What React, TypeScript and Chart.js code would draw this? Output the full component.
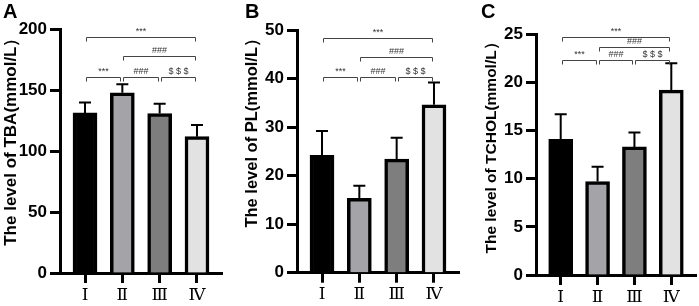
import React, { useEffect, useRef } from 'react';
import { Chart, registerables } from 'chart.js';

Chart.register(...registerables);

// ---------- data ----------
const groups = ['Ⅰ', 'Ⅱ', 'Ⅲ', 'Ⅳ'];
const groupPositions = [1, 2, 3, 4];
const barColors = ['#000000', '#a4a4a8', '#7e7e7e', '#e2e2e2'];

const tbaMeans = [131.5, 148, 131, 112];
const tbaErrors = [8.5, 7, 8, 9.5];
const plMeans = [24.2, 15.3, 23.4, 34.6];
const plErrors = [5, 2.6, 4.4, 4.6];
const tcholMeans = [14.1, 9.7, 13.3, 19.2];
const tcholErrors = [2.6, 1.55, 1.5, 2.8];

const tbaBrackets = [
  { from: 1, to: 4, y: 193.5, label: '***' },
  { from: 2, to: 4, y: 178, label: '###' },
  { from: 1, to: 2, y: 161, label: '***' },
  { from: 2, to: 3, y: 161, label: '###' },
  { from: 3, to: 4, y: 161, label: '$ $ $' },
];
const plBrackets = [
  { from: 1, to: 4, y: 48.4, label: '***' },
  { from: 2, to: 4, y: 44.5, label: '###' },
  { from: 1, to: 2, y: 40.4, label: '***' },
  { from: 2, to: 3, y: 40.4, label: '###' },
  { from: 3, to: 4, y: 40.4, label: '$ $ $' },
];
const tcholBrackets = [
  { from: 1, to: 4, y: 24.75, label: '***' },
  { from: 2, to: 4, y: 23.7, label: '###' },
  { from: 1, to: 2, y: 22.3, label: '***' },
  { from: 2, to: 3, y: 22.3, label: '###' },
  { from: 3, to: 4, y: 22.3, label: '$ $ $' },
];

const tbaAxis = { max: 200, step: 50 };
const plAxis = { max: 50, step: 10 };
const tcholAxis = { max: 25, step: 5 };

const SANS = "'Liberation Sans', Arial, sans-serif";

type Bracket = { from: number; to: number; y: number; label: string };

type PanelProps = {
  letter: string;
  title: string;
  titleSize: number;
  means: number[];
  errors: number[];
  brackets: Bracket[];
  axis: { max: number; step: number };
  left: number;
  padLeft: number;
  padRight: number;
  padTop: number;
  yWidth: number;
  xHeight: number;
  letterX: number;
};

function Panel(p: PanelProps) {
  const ref = useRef<HTMLCanvasElement | null>(null);

  useEffect(() => {
    if (!ref.current) return;
    const overlay = {
      id: 'overlay' + p.letter,
      afterDatasetsDraw(chart: any) {
        const { ctx } = chart;
        const x = chart.scales.x;
        const y = chart.scales.y;
        ctx.save();
        // error bars
        ctx.strokeStyle = '#000';
        ctx.lineWidth = 2;
        p.means.forEach((m, i) => {
          const xp = x.getPixelForValue(groupPositions[i]);
          const y0 = y.getPixelForValue(m);
          const y1 = y.getPixelForValue(m + p.errors[i]);
          ctx.beginPath();
          ctx.moveTo(xp, y0);
          ctx.lineTo(xp, y1);
          ctx.moveTo(xp - 6, y1);
          ctx.lineTo(xp + 6, y1);
          ctx.stroke();
        });
        // significance brackets
        ctx.strokeStyle = '#444';
        ctx.lineWidth = 1;
        ctx.fillStyle = '#333';
        ctx.font = `9px ${SANS}`;
        ctx.textAlign = 'center';
        ctx.textBaseline = 'bottom';
        p.brackets.forEach((b) => {
          const x1 = Math.round(x.getPixelForValue(b.from)) + 1.5;
          const x2 = Math.round(x.getPixelForValue(b.to)) - 1.5;
          const yy = Math.round(y.getPixelForValue(b.y)) + 0.5;
          ctx.beginPath();
          ctx.moveTo(x1, yy + 4);
          ctx.lineTo(x1, yy);
          ctx.lineTo(x2, yy);
          ctx.lineTo(x2, yy + 4);
          ctx.stroke();
          ctx.fillText(b.label, (x1 + x2) / 2, yy - 1);
        });
        // panel letter
        ctx.fillStyle = '#000';
        ctx.font = `bold 20px ${SANS}`;
        ctx.textAlign = 'left';
        ctx.textBaseline = 'alphabetic';
        ctx.fillText(p.letter, p.letterX, 18);
        ctx.restore();
      },
    };

    const chart = new Chart(ref.current, {
      type: 'bar',
      data: {
        datasets: [
          {
            data: p.means.map((m, i) => ({ x: groupPositions[i], y: m })),
            backgroundColor: barColors,
            borderColor: '#000',
            borderWidth: 3.5,
            barThickness: 24,
          },
        ],
      },
      options: {
        responsive: false,
        animation: false,
        events: [],
        layout: { padding: { left: p.padLeft, right: p.padRight, top: p.padTop, bottom: 0 } },
        plugins: { legend: { display: false }, tooltip: { enabled: false }, title: { display: false } },
        scales: {
          x: {
            type: 'linear',
            min: 0.33,
            max: 4.67,
            offset: false,
            afterBuildTicks: (s: any) => {
              s.ticks = groupPositions.map((v) => ({ value: v }));
            },
            afterFit: (s: any) => {
              s.height = p.xHeight;
            },
            ticks: {
              autoSkip: false,
              maxRotation: 0,
              padding: 2,
              color: '#000',
              font: { family: "'DejaVu Serif', serif", size: 17 },
              callback: (v: any) => {
                const idx = groupPositions.indexOf(Number(v));
                return idx >= 0 ? groups[idx] : '';
              },
            },
            grid: {
              offset: false,
              drawOnChartArea: false,
              drawTicks: true,
              tickLength: 10,
              tickWidth: 3,
              tickColor: '#000',
            },
            border: { display: true, color: '#000', width: 3 },
          },
          y: {
            min: 0,
            max: p.axis.max,
            afterFit: (s: any) => {
              s.width = p.yWidth;
            },
            ticks: {
              stepSize: p.axis.step,
              padding: 3,
              color: '#000',
              font: { family: SANS, size: 17, weight: 'bold' },
            },
            grid: {
              drawOnChartArea: false,
              drawTicks: true,
              tickLength: 10,
              tickWidth: 3,
              tickColor: '#000',
            },
            border: { display: true, color: '#000', width: 3 },
            title: {
              display: true,
              text: p.title,
              align: 'end',
              color: '#000',
              padding: 0,
              font: { family: SANS, size: p.titleSize, weight: 'bold' },
            },
          },
        },
      } as any,
      plugins: [overlay],
    });
    return () => chart.destroy();
  }, []);

  return (
    <canvas
      ref={ref}
      width={233}
      height={306}
      style={{ position: 'absolute', left: p.left, top: 0, width: 233, height: 306 }}
    />
  );
}

export default function App() {
  return (
    <div style={{ position: 'absolute', left: 0, top: 0, width: 699, height: 306, background: '#fff', overflow: 'hidden' }}>
      <Panel
        letter="A"
        title="The level of TBA(mmol/L）"
        titleSize={17}
        means={tbaMeans}
        errors={tbaErrors}
        brackets={tbaBrackets}
        axis={tbaAxis}
        left={0}
        padLeft={1}
        padRight={11}
        padTop={29.5}
        yWidth={59}
        xHeight={33}
        letterX={3}
      />
      <Panel
        letter="B"
        title="The level of PL(mmol/L）"
        titleSize={16.5}
        means={plMeans}
        errors={plErrors}
        brackets={plBrackets}
        axis={plAxis}
        left={233}
        padLeft={9.5}
        padRight={7}
        padTop={30}
        yWidth={54.5}
        xHeight={33.3}
        letterX={12}
      />
      <Panel
        letter="C"
        title="The level of TCHOL(mmol/L）"
        titleSize={15.5}
        means={tcholMeans}
        errors={tcholErrors}
        brackets={tcholBrackets}
        axis={tcholAxis}
        left={466}
        padLeft={16}
        padRight={3}
        padTop={34.3}
        yWidth={54}
        xHeight={31}
        letterX={15}
      />
    </div>
  );
}
